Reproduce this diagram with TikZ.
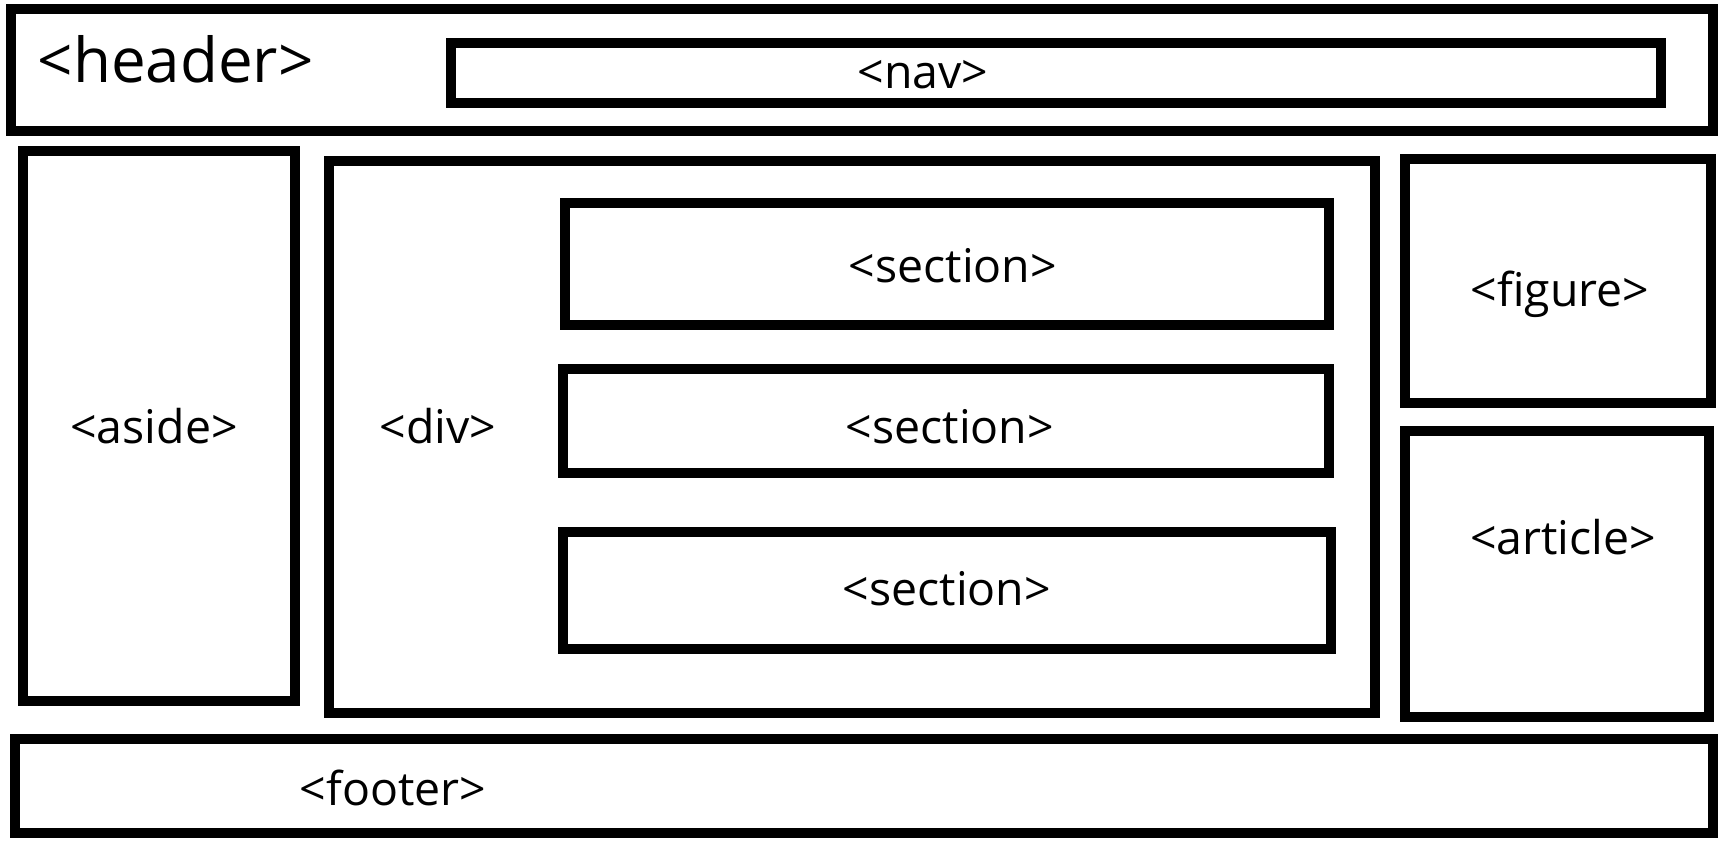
\documentclass[tikz,border=0pt]{standalone}
\usepackage{fontspec}
\setmainfont{Open Sans}
\usetikzlibrary{positioning}

\tikzset{
    box/.style={draw, line width=2.85pt},
    tag/.style={inner sep=0pt, anchor=base, font=\fontsize{13.2}{15}\selectfont},
    bigtag/.style={inner sep=0pt, anchor=base west, font=\fontsize{17.6}{20}\selectfont}
}

\begin{document}
\begin{tikzpicture}[x=0.01cm, y=-0.01cm]
    \useasboundingbox (0,0) rectangle (1726,850);
    % Header met nav
    \draw[box] (11,9) rectangle (1713,131);
    \node[bigtag] (header) at (37,82) {<header>};
    \draw[box] (451,43) rectangle (1661,103);
    \node[tag] (nav) at (923,88) {<nav>};
    % Aside links
    \draw[box] (23,151) rectangle (295,701);
    \node[tag] (aside) at (154,443) {<aside>};
    % Div met drie sections
    \draw[box] (329,161) rectangle (1375,713);
    \node[tag] (div) at (438,443) {<div>};
    \draw[box] (565,203) rectangle (1329,325);
    \node[tag] (sectiona) at (953,282) {<section>};
    \draw[box] (563,369) rectangle (1329,473);
    \node[tag] (sectionb) at (950,443) {<section>};
    \draw[box] (563,532) rectangle (1331,649);
    \node[tag] (sectionc) at (947,605) {<section>};
    % Rechts: figure en article
    \draw[box] (1405,159) rectangle (1711,403);
    \node[tag] (figure) at (1560,306) {<figure>};
    \draw[box] (1405,431) rectangle (1709,717);
    \node[tag] (article) at (1563,554) {<article>};
    % Footer
    \draw[box] (15,739) rectangle (1713,833);
    \node[tag] (footer) at (393,805) {<footer>};
\end{tikzpicture}
\end{document}
